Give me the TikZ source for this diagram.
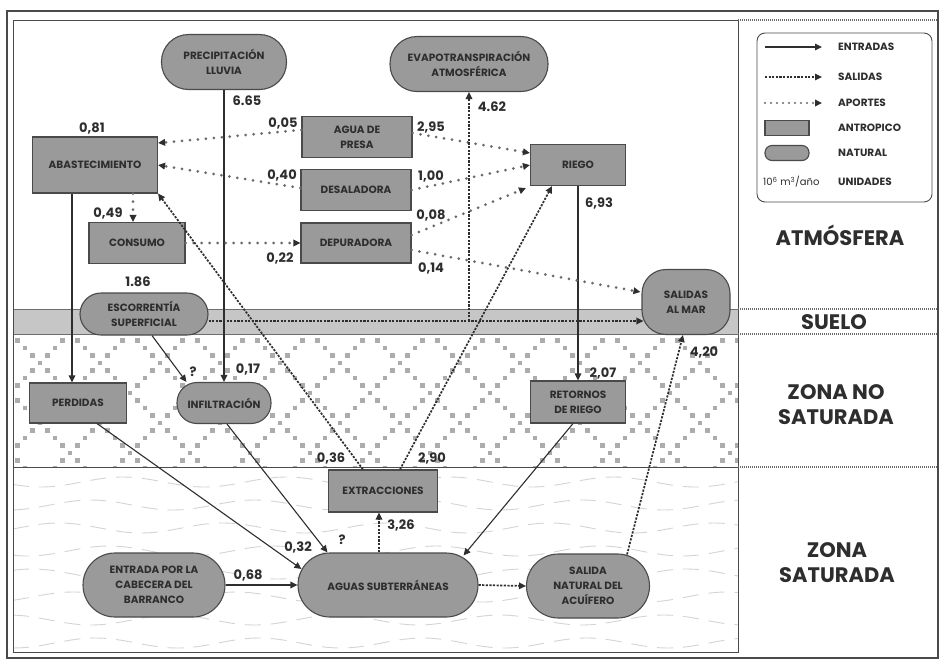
\documentclass[tikz,border=0pt]{standalone}
\usepackage{fontspec}
\setmainfont{Poppins}
\usetikzlibrary{arrows.meta,calc}
\definecolor{nodefill}{HTML}{9A9A9A}
\definecolor{nodeline}{HTML}{4A4A4A}
\definecolor{txt}{HTML}{2E2E2E}
\definecolor{bandfill}{HTML}{C6C6C6}
\definecolor{bandline}{HTML}{6E6E6E}
\definecolor{hatch}{HTML}{ACACAC}
\definecolor{wave}{HTML}{D4D4D4}
\definecolor{dotc}{HTML}{6A6A6A}
\tikzset{
  antro/.style={draw=nodeline, line width=1.1, fill=nodefill, text=txt,
    font=\fontsize{10.5}{15}\selectfont\bfseries, align=center, inner sep=1pt},
  natur/.style={antro, rounded corners=#1},
  natur/.default=20,
  lbl/.style={text=txt, font=\fontsize{13}{14}\selectfont\bfseries, inner sep=0pt},
  zonelbl/.style={text=txt, font=\fontsize{21}{25}\selectfont\bfseries, align=center, inner sep=0pt},
  legtxt/.style={text=txt, font=\fontsize{10.5}{12}\selectfont\bfseries, inner sep=0pt, anchor=west},
  tipc/.style={-{Triangle[length=7pt,width=6.5pt,color=txt]}},
  entrada/.style={draw=txt, line width=1.1, tipc},
  salida/.style={draw=txt, line width=1.7, dash pattern=on 2.2pt off 1.4pt, tipc},
  aporte/.style={draw=dotc, line width=3, line cap=round, dash pattern=on 0pt off 8pt, tipc},
  frameline/.style={draw=nodeline, line width=0.9},
  rdots/.style={draw=dotc, line width=1.3, dash pattern=on 1pt off 1pt},
}
\begin{document}
\begin{tikzpicture}[x=1pt,y=-1pt]
\useasboundingbox (0,0) rectangle (940,662);
\fill[white] (0,0) rectangle (940,662);

% ---- zones ----
\fill[bandfill] (13,309) rectangle (738,334);
\draw[draw=bandline, line width=0.9] (13,309) -- (738,309);
\draw[draw=bandline, line width=0.9] (13,334) -- (738,334);

\begin{scope}
  \clip (13,335) rectangle (738,467);
  \foreach \k in {-3,...,15} {
    \foreach \i in {0,...,18} {
      \fill[hatch] ({\k*60 + 10 + \i*7.5 - 2.3}, {333 + \i*7.5 - 2.3}) rectangle +(4.6,4.6);
      \fill[hatch] ({\k*60 + 10 - \i*7.5 - 2.3}, {333 + \i*7.5 - 2.3}) rectangle +(4.6,4.6);
    }
  }
\end{scope}

\begin{scope}
  \clip (13,468) rectangle (738,652);
  \foreach \yy/\ph in {482/0, 505/70, 528/140, 551/30, 574/200, 597/110, 620/250, 643/60} {
    \draw[wave, line width=0.9, dash pattern=on 16pt off 10pt]
      plot[domain=13:738, samples=70, smooth] (\x, {\yy + 5*sin(2.2*\x + \ph)});
  }
\end{scope}
\draw[frameline] (13,467) -- (738,467);

% ---- frames ----
\draw[draw=nodeline, line width=1.3] (7,11) rectangle (938,658);
\draw[frameline] (13,20) rectangle (738,652);
\draw[rdots] (738,20) -- (938,20);
\draw[rdots] (738,309) -- (938,309);
\draw[rdots] (738,334) -- (938,334);
\draw[rdots] (738,467) -- (938,467);

% ---- nodes ----
\node[natur=27, minimum width=125, minimum height=55] (precip) at (224,62) {PRECIPITACIÓN\\LLUVIA};
\node[natur=27, minimum width=158, minimum height=55] (evapo) at (469,64) {EVAPOTRANSPIRACIÓN\\ATMOSFÉRICA};
\node[antro, minimum width=125, minimum height=56] (abast) at (95,165) {ABASTECIMIENTO};
\node[antro, minimum width=110, minimum height=41] (agua) at (357,137) {AGUA DE\\PRESA};
\node[antro, minimum width=110, minimum height=41] (desal) at (356,190) {DESALADORA};
\node[antro, minimum width=110, minimum height=40] (depur) at (356,243) {DEPURADORA};
\node[antro, minimum width=96, minimum height=41] (consumo) at (137,243) {CONSUMO};
\node[antro, minimum width=95, minimum height=41] (riego) at (578,165) {RIEGO};
\node[natur=24, minimum width=88, minimum height=65] (salmar) at (686,302) {SALIDAS\\AL MAR};
\node[natur=21, minimum width=128, minimum height=42] (escor) at (144,314) {ESCORRENTÍA\\SUPERFICIAL};
\node[antro, minimum width=97, minimum height=40] (perd) at (78,403) {PERDIDAS};
\node[natur=20, minimum width=94, minimum height=41] (infil) at (224,403) {INFILTRACIÓN};
\node[antro, minimum width=95, minimum height=42] (retor) at (578,402) {RETORNOS\\DE RIEGO};
\node[antro, minimum width=109, minimum height=42] (extr) at (383,491) {EXTRACCIONES};
\node[natur=32, minimum width=180, minimum height=64] (aguas) at (388,585) {AGUAS SUBTERRÁNEAS};
\node[natur=32, minimum width=123, minimum height=64] (salnat) at (588,586) {SALIDA\\NATURAL DEL\\ACUÍFERO};
\node[natur=32, minimum width=142, minimum height=64] (entrada) at (154,585) {ENTRADA POR LA\\CABECERA DEL\\BARRANCO};

% ---- connectors ----
% entradas (solid)
\draw[entrada] (precip.south) -- (infil.north);
\draw[entrada] ([xshift=-23pt]abast.south) -- ([xshift=-6pt]perd.north);
\draw[entrada] ([xshift=8pt]escor.south) -- ([xshift=10pt]infil.north west);
\draw[entrada] (riego.south) -- (retor.north);
\draw[entrada] ([xshift=-5pt]retor.south) -- ([xshift=-15pt,yshift=-3pt]aguas.north east);
\draw[entrada] ([xshift=19pt]perd.south) -- ([xshift=4pt,yshift=16pt]aguas.west);
\draw[entrada] ([xshift=3pt]infil.south) -- ([xshift=30pt]aguas.north west);
\draw[entrada] (entrada.east) -- (aguas.west);

% aportes (dotted)
\draw[aporte] ([xshift=38pt]abast.south) -- ([xshift=-4pt]consumo.north);
\draw[aporte] ([yshift=7pt]agua.west) -- ([yshift=22pt]abast.east);
\draw[aporte] ([yshift=2pt]desal.west) -- (abast.east);
\draw[aporte] (consumo.east) -- (depur.west);
\draw[aporte] ([yshift=4pt]agua.east) -- ([yshift=12pt]riego.west);
\draw[aporte] (desal.east) -- (riego.west);
\draw[aporte] ([yshift=8pt]depur.east) -- ([xshift=-4pt,yshift=-2pt]riego.south west);
\draw[aporte] ([yshift=-7pt]depur.east) -- ([xshift=-1pt,yshift=10pt]salmar.west);

% salidas (dashed)
\coordinate (evsrc) at (469,321);
\draw[salida] (evsrc) -- (evapo.south);
\draw[salida] ([yshift=-7pt]escor.east) -- ([xshift=2pt,yshift=-19pt]salmar.west);
\draw[salida] ([xshift=-20pt]extr.north) -- (abast.south east);
\draw[salida] ([xshift=17pt]extr.north) -- ([xshift=-26pt]riego.south);
\draw[salida] ([xshift=-9pt]aguas.north) -- ([xshift=-4pt]extr.south);
\draw[salida] (aguas.east) -- (salnat.west);
\draw[salida] ([xshift=-23pt,yshift=-1pt]salnat.north east) -- ([xshift=-3pt]salmar.south);

% ---- labels ----
\node[lbl] (l665) at (247,101) {6.65};
\node[lbl] (l081) at (92,128) {0,81};
\node[lbl] (l005) at (283,123) {0,05};
\node[lbl] (l040) at (282,175) {0,40};
\node[lbl] (l295) at (431,127) {2,95};
\node[lbl] (l100) at (431,176) {1,00};
\node[lbl] (l008) at (431,215) {0,08};
\node[lbl] (l014) at (431,268) {0,14};
\node[lbl] (l022) at (280,258) {0,22};
\node[lbl] (l049) at (108,213) {0,49};
\node[lbl] (l186) at (138,282) {1.86};
\node[lbl] (l462) at (492,107) {4.62};
\node[lbl] (l693) at (599,203) {6,93};
\node[lbl] (lq1) at (193,372) {?};
\node[lbl] (l017) at (248,369) {0,17};
\node[lbl] (l207) at (603,373) {2,07};
\node[lbl] (l420) at (704,352) {4,20};
\node[lbl] (l036) at (331,458) {0,36};
\node[lbl] (l290) at (432,458) {2,90};
\node[lbl] (l326) at (401,525) {3,26};
\node[lbl] (lq2) at (342,540) {?};
\node[lbl] (l032) at (298,547) {0,32};
\node[lbl] (l068) at (248,575) {0,68};

% ---- zone labels ----
\node[zonelbl] (zatm) at (840,235) {ATMÓSFERA};
\node[zonelbl] (zsue) at (834,322) {SUELO};
\node[zonelbl] (zns) at (836,405) {ZONA NO\\SATURADA};
\node[zonelbl] (zs) at (837,563) {ZONA\\SATURADA};

% ---- legend ----
\draw[draw=nodeline, line width=0.9, rounded corners=8] (757,33) rectangle (932,202);
\coordinate (lga1) at (765,47);  \coordinate (lgb1) at (822,47);
\coordinate (lga2) at (765,77);  \coordinate (lgb2) at (822,77);
\coordinate (lga3) at (765,103); \coordinate (lgb3) at (822,103);
\draw[entrada] (lga1) -- (lgb1);
\draw[salida, line width=1.2] (lga2) -- (lgb2);
\draw[aporte, line width=2.2, dash pattern=on 0pt off 6pt] (lga3) -- (lgb3);
\node[antro, minimum width=44, minimum height=15] (lgant) at (787,128) {};
\node[natur=7, minimum width=44, minimum height=15] (lgnat) at (787,153) {};
\node[legtxt] (lt1) at (838,47) {ENTRADAS};
\node[legtxt] (lt2) at (838,77) {SALIDAS};
\node[legtxt] (lt3) at (838,103) {APORTES};
\node[legtxt] (lt4) at (838,128) {ANTROPICO};
\node[legtxt] (lt5) at (838,153) {NATURAL};
\node[legtxt] (lt6) at (838,182) {UNIDADES};
\node[text=txt, font=\fontsize{10}{12}\selectfont, inner sep=0pt, anchor=west] (lt6u) at (763,182) {10\textsuperscript{6} m\textsuperscript{3}/año};
\end{tikzpicture}
\end{document}
